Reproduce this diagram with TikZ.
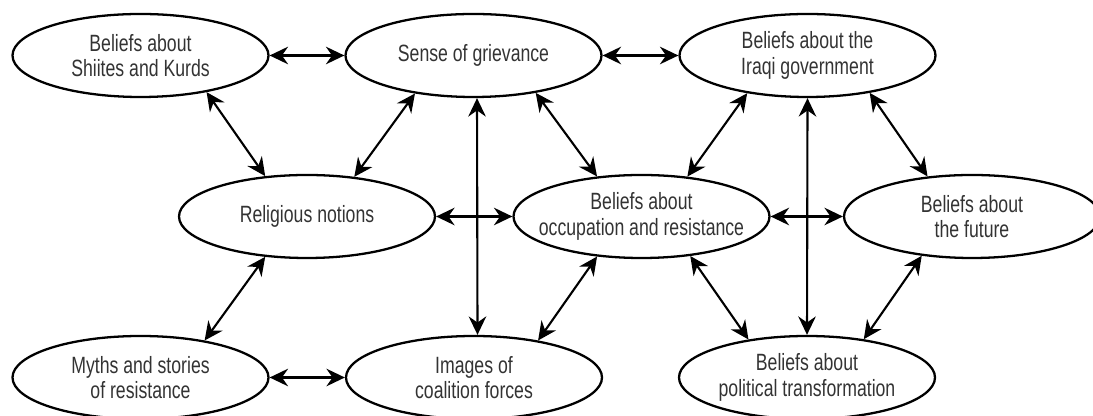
\documentclass[tikz,border=0pt]{standalone}
\usepackage{fontspec}
\setmainfont[FakeStretch=0.75]{Liberation Sans}
\usetikzlibrary{shapes.geometric,arrows.meta}

\begin{document}
\begin{tikzpicture}[
        belief/.style={draw=black, line width=1.3pt, ellipse, inner ysep=0pt, inner xsep=-0.35cm,
            minimum width=5.12cm, minimum height=1.66cm, align=center,
            text=black!80, font=\fontsize{13.4}{14.4}\selectfont},
        link/.style={line width=1.2pt,
            {Stealth[length=10.5pt,width=10pt,inset=3.5pt]}-{Stealth[length=10.5pt,width=10pt,inset=3.5pt]}}
    ]
        \useasboundingbox (0,0) rectangle (21.86,8.32);

        \node[belief] (shiites) at (2.81,7.21) {Beliefs about\\Shiites and Kurds};
        \node[belief] (grievance) at (9.47,7.21) {Sense of grievance};
        \node[belief] (iraqi) at (16.15,7.21) {Beliefs about the\\Iraqi government};
        \node[belief] (religious) at (6.14,3.99) {Religious notions};
        \node[belief] (occupation) at (12.83,3.99) {Beliefs about\\occupation and resistance};
        \node[belief] (future) at (19.44,3.99) {Beliefs about\\the future};
        \node[belief] (myths) at (2.81,0.77) {Myths and stories\\of resistance};
        \node[belief] (images) at (9.48,0.77) {Images of\\coalition forces};
        \node[belief] (political) at (16.14,0.77) {Beliefs about\\political transformation};

        \path [link](shiites) edge (grievance);
        \path [link](grievance) edge (iraqi);
        \path [link](religious) edge (occupation);
        \path [link](occupation) edge (future);
        \path [link](myths) edge (images);
        \path [link]([xshift=0.07cm]grievance.south) edge ([xshift=0.07cm]images.north);
        \path [link](iraqi.south) edge (political.north);
        \path [link](shiites.-29) edge (religious.136);
        \path [link](grievance.-147) edge (religious.40);
        \path [link](grievance.-31) edge (occupation.138);
        \path [link](iraqi.-148) edge (occupation.41);
        \path [link](iraqi.-31) edge (future.138);
        \path [link](religious.-136) edge (myths.30);
        \path [link](occupation.-138) edge (images.30);
        \path [link](occupation.-39) edge (political.147);
        \path [link](future.-142) edge (political.34);
    \end{tikzpicture}
\end{document}
